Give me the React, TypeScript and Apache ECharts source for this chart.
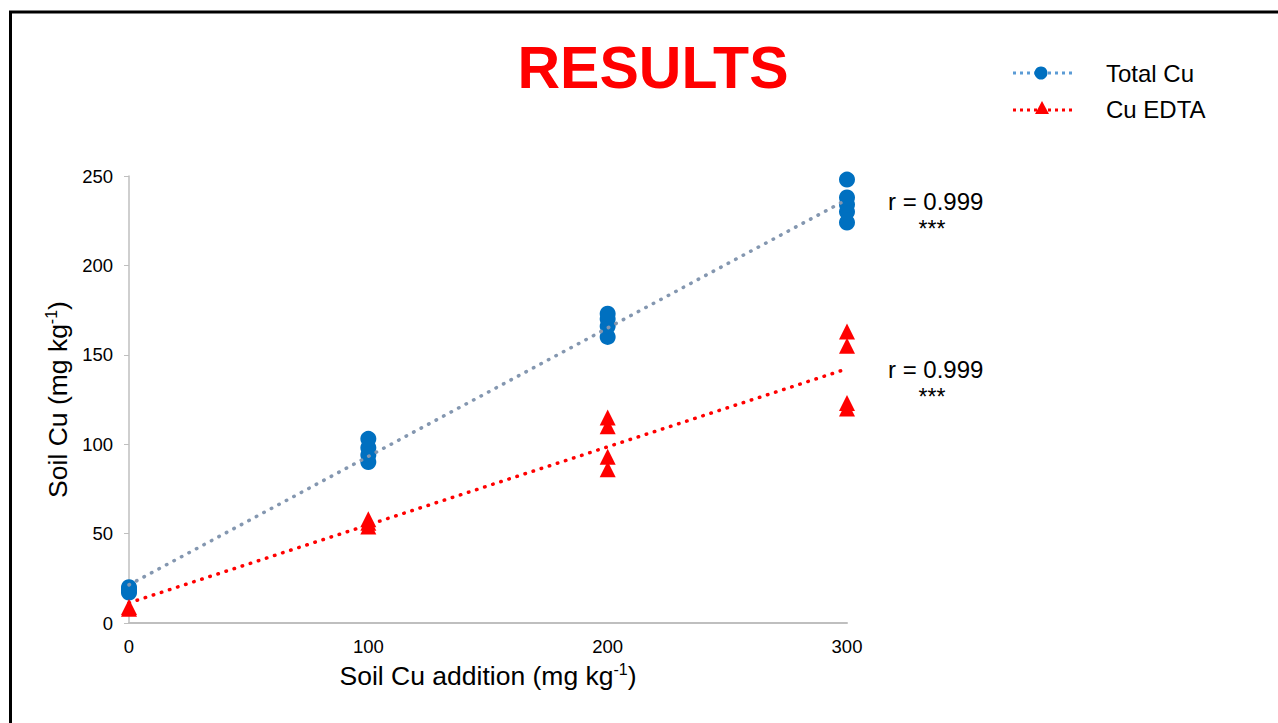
import React, { useEffect, useRef } from "react";
import * as echarts from "echarts";

const totalCuX = [0, 0, 0, 0, 100, 100, 100, 100, 200, 200, 200, 200, 300, 300, 300, 300, 300];
const totalCuY = [17, 18, 19, 20, 90, 94, 98, 103, 160, 166, 170, 173, 224, 230, 234, 238, 248];
const edtaX = [0, 0, 100, 100, 100, 200, 200, 200, 200, 300, 300, 300, 300];
const edtaY = [8, 9, 54, 56, 58, 86, 93, 110, 115, 120, 123, 155, 163];
const xTicks = [0, 100, 200, 300];
const yTicks = [0, 50, 100, 150, 200, 250];
const rLabels = ["r = 0.999", "r = 0.999"];
const sigLabels = ["***", "***"];

function fit(xs: number[], ys: number[]) {
  const n = xs.length;
  const mx = xs.reduce((a, b) => a + b, 0) / n;
  const my = ys.reduce((a, b) => a + b, 0) / n;
  let sxy = 0, sxx = 0;
  for (let i = 0; i < n; i++) { sxy += (xs[i] - mx) * (ys[i] - my); sxx += (xs[i] - mx) ** 2; }
  const b = sxy / sxx;
  const a = my - b * mx;
  const x0 = xTicks[0], x1 = xTicks[xTicks.length - 1];
  return [[x0, a + b * x0], [x1, a + b * x1]];
}

const FONT = "Liberation Sans, Arial, sans-serif";

export default function App() {
  const ref = useRef<HTMLDivElement>(null);
  useEffect(() => {
    document.body.style.margin = "0";
    const chart = echarts.init(ref.current!, null, { renderer: "svg" });
    const dot = { type: [0.5, 8] as any, cap: "round" as any, width: 3.5 };
    chart.setOption({
      animation: false,
      backgroundColor: "#ffffff",
      textStyle: { fontFamily: FONT },
      grid: { left: 129, right: 431, top: 176, bottom: 100, containLabel: false },
      xAxis: {
        type: "value", min: xTicks[0], max: xTicks[xTicks.length - 1], interval: 100,
        axisLine: { show: true, onZero: false, lineStyle: { color: "#bfbfbf", width: 2 } },
        axisTick: { show: false },
        splitLine: { show: false },
        axisLabel: { color: "#000", fontSize: 18.5, margin: 14, fontFamily: FONT },
        name: "{a|Soil Cu addition (mg kg}{s|-1}{a|)}",
        nameLocation: "middle", nameGap: 38,
        nameTextStyle: {
          rich: {
            a: { fontSize: 26.5, color: "#000", fontFamily: FONT },
            s: { fontSize: 16, color: "#000", fontFamily: FONT, padding: [0, 0, 13, 0] },
          },
        },
      },
      yAxis: {
        type: "value", min: yTicks[0], max: yTicks[yTicks.length - 1], interval: 50,
        axisLine: { show: true, lineStyle: { color: "#bfbfbf", width: 1.5 } },
        axisTick: { show: true, length: 5, lineStyle: { color: "#bfbfbf" } },
        splitLine: { show: false },
        axisLabel: { color: "#000", fontSize: 18.5, margin: 16, fontFamily: FONT },
        name: "{a|Soil Cu (mg kg}{s|-1}{a|)}",
        nameLocation: "middle", nameGap: 55, nameRotate: 90,
        nameTextStyle: {
          rich: {
            a: { fontSize: 26.5, color: "#000", fontFamily: FONT },
            s: { fontSize: 16, color: "#000", fontFamily: FONT, padding: [0, 0, 13, 0] },
          },
        },
      },
      series: [
        {
          name: "Total Cu trend", type: "line", data: fit(totalCuX, totalCuY), symbol: "none",
          lineStyle: { ...dot, color: "#8497b0" }, z: 3, silent: true,
        },
        {
          name: "Cu EDTA trend", type: "line", data: fit(edtaX, edtaY), symbol: "none",
          lineStyle: { ...dot, color: "#ff0000" }, z: 3, silent: true,
        },
        {
          name: "Total Cu", type: "scatter", symbol: "circle", symbolSize: 16,
          data: totalCuX.map((x, i) => [x, totalCuY[i]]),
          itemStyle: { color: "#0070c0", opacity: 1 }, z: 2,
        },
        {
          name: "Cu EDTA", type: "scatter", symbol: "triangle", symbolSize: 16,
          data: edtaX.map((x, i) => [x, edtaY[i]]),
          itemStyle: { color: "#ff0000", opacity: 1 }, z: 2,
        },
      ],
      graphic: [
        { type: "line", shape: { x1: 9, y1: 12, x2: 1278, y2: 12 }, style: { stroke: "#000", lineWidth: 3 } },
        { type: "line", shape: { x1: 10.5, y1: 11, x2: 10.5, y2: 723 }, style: { stroke: "#000", lineWidth: 3 } },
        {
          type: "text", x: 653, y: 68,
          style: { text: "RESULTS", fill: "#ff0000", font: `bold 59px ${FONT}`, align: "center", verticalAlign: "middle" },
        },
        { type: "line", shape: { x1: 1013, y1: 73, x2: 1073, y2: 73 }, style: { stroke: "#5b9bd5", lineWidth: 3, lineDash: [3, 4] } },
        { type: "circle", shape: { cx: 1041, cy: 73, r: 6.5 }, style: { fill: "#0070c0" } },
        { type: "text", x: 1106, y: 73, style: { text: "Total Cu", fill: "#000", font: `24px ${FONT}`, verticalAlign: "middle" } },
        { type: "line", shape: { x1: 1013, y1: 110, x2: 1073, y2: 110 }, style: { stroke: "#ff0000", lineWidth: 3, lineDash: [3, 4] } },
        { type: "polygon", shape: { points: [[1042, 101], [1049, 114], [1035, 114]] }, style: { fill: "#ff0000" } },
        { type: "text", x: 1106, y: 109, style: { text: "Cu EDTA", fill: "#000", font: `24px ${FONT}`, verticalAlign: "middle" } },
        { type: "text", x: 888, y: 201, style: { text: rLabels[0], fill: "#000", font: `24px ${FONT}`, verticalAlign: "middle" } },
        { type: "text", x: 932, y: 229, style: { text: sigLabels[0], fill: "#000", font: `23px ${FONT}`, align: "center", verticalAlign: "middle" } },
        { type: "text", x: 888, y: 369, style: { text: rLabels[1], fill: "#000", font: `24px ${FONT}`, verticalAlign: "middle" } },
        { type: "text", x: 932, y: 397, style: { text: sigLabels[1], fill: "#000", font: `23px ${FONT}`, align: "center", verticalAlign: "middle" } },
      ],
    });
    return () => chart.dispose();
  }, []);
  return <div ref={ref} style={{ width: 1278, height: 723, position: "absolute", left: 0, top: 0 }} />;
}
